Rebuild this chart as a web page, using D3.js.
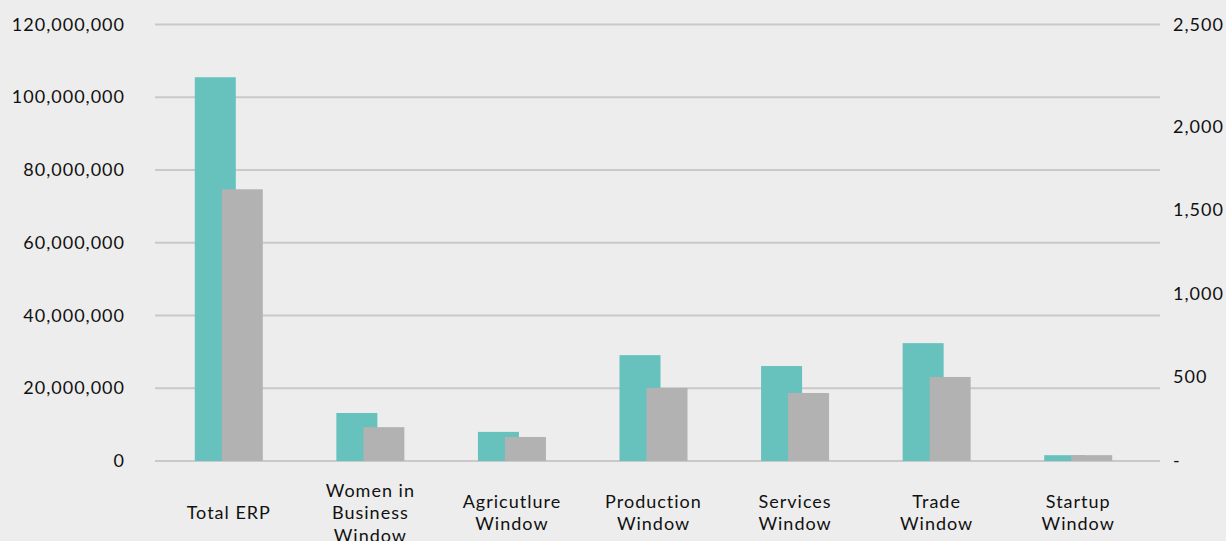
<!DOCTYPE html>
<meta charset="utf-8">
<head>
  <title>ERP windows</title>
</head>
<style>
body { margin: 0; background: #ededed; }
svg { display: block; font-family: Lato, "Open Sans", sans-serif; }
.tick-label { font-size: 18px; fill: #111; letter-spacing: 1px; }
.cat-label { font-size: 18px; fill: #111; letter-spacing: 1px; }
</style>
<body>
  <svg width="1226" height="541"></svg>

  <script src="https://cdnjs.cloudflare.com/ajax/libs/d3/7.8.5/d3.min.js"></script>
  <script>
var width = 1226, height = 541

// categories, each label split into lines
var categories = ["Total ERP", "Women in Business Window", "Agricutlure Window",
  "Production Window", "Services Window", "Trade Window", "Startup Window"]
var labelLines = [["Total ERP"], ["Women in", "Business", "Window"], ["Agricutlure", "Window"],
  ["Production", "Window"], ["Services", "Window"], ["Trade", "Window"], ["Startup", "Window"]]

// teal series and grey series (left axis units)
var tealValues = [105500000, 13200000, 8000000, 29100000, 26100000, 32400000, 1600000]
var greyValues = [74700000, 9300000, 6600000, 20100000, 18700000, 23100000, 1600000]

var leftTicks = [0, 20000000, 40000000, 60000000, 80000000, 100000000, 120000000]
var rightTicks = [0, 500, 1000, 1500, 2000, 2500]

var svg = d3.select('svg')
svg.append('rect').attr('width', width).attr('height', height).attr('fill', '#ededed')

var y = d3.scaleLinear().domain([0, 120000000]).range([461, 24.5])
var yR = d3.scaleLinear().domain([0, 2500]).range([461, 43])
var x = d3.scaleBand().domain(categories).range([158, 1149])

var gridLeft = 155, gridRight = 1160

// gridlines
svg.selectAll('line.grid')
  .data(leftTicks)
  .enter().append('line')
  .attr('class', 'grid')
  .attr('x1', gridLeft).attr('x2', gridRight)
  .attr('y1', function(d) { return y(d) })
  .attr('y2', function(d) { return y(d) })
  .attr('stroke', '#c9c9c9')
  .attr('stroke-width', 2)

// left labels
var fmt = d3.format(',')
svg.selectAll('text.left')
  .data(leftTicks)
  .enter().append('text')
  .attr('class', 'tick-label left')
  .attr('x', 125)
  .attr('y', function(d) { return y(d) + 6 })
  .attr('text-anchor', 'end')
  .text(function(d) { return fmt(d) })

// right labels (top label sits at the plot top)
svg.selectAll('text.right')
  .data(rightTicks)
  .enter().append('text')
  .attr('class', 'tick-label right')
  .attr('x', 1173)
  .attr('y', function(d) { return (d === 2500 ? y(120000000) : yR(d)) + 6 })
  .text(function(d) { return d === 0 ? '-' : fmt(d) })

var barW = 41, shift = 27

// teal bars
svg.selectAll('rect.teal')
  .data(tealValues)
  .enter().append('rect')
  .attr('class', 'teal')
  .attr('x', function(d, i) { return x(categories[i]) + x.bandwidth() / 2 - 34 })
  .attr('y', function(d) { return y(d) })
  .attr('width', barW)
  .attr('height', function(d) { return y(0) - y(d) })
  .attr('fill', '#67c1bd')

// grey bars, overlapping the teal ones
svg.selectAll('rect.grey')
  .data(greyValues)
  .enter().append('rect')
  .attr('class', 'grey')
  .attr('x', function(d, i) { return x(categories[i]) + x.bandwidth() / 2 - 34 + shift })
  .attr('y', function(d) { return y(d) })
  .attr('width', barW)
  .attr('height', function(d) { return y(0) - y(d) })
  .attr('fill', '#b2b2b2')

// category labels
var lineH = 22.5
svg.selectAll('text.cat')
  .data(labelLines)
  .enter().append('text')
  .attr('class', 'cat-label')
  .attr('text-anchor', 'middle')
  .each(function(lines, i) {
    var cx = x(categories[i]) + x.bandwidth() / 2
    var top = 513 - (lines.length - 1) * lineH / 2
    d3.select(this).selectAll('tspan')
      .data(lines)
      .enter().append('tspan')
      .attr('x', cx)
      .attr('y', function(l, j) { return top + j * lineH + 6 })
      .text(function(l) { return l })
  })
  </script>
</body>
